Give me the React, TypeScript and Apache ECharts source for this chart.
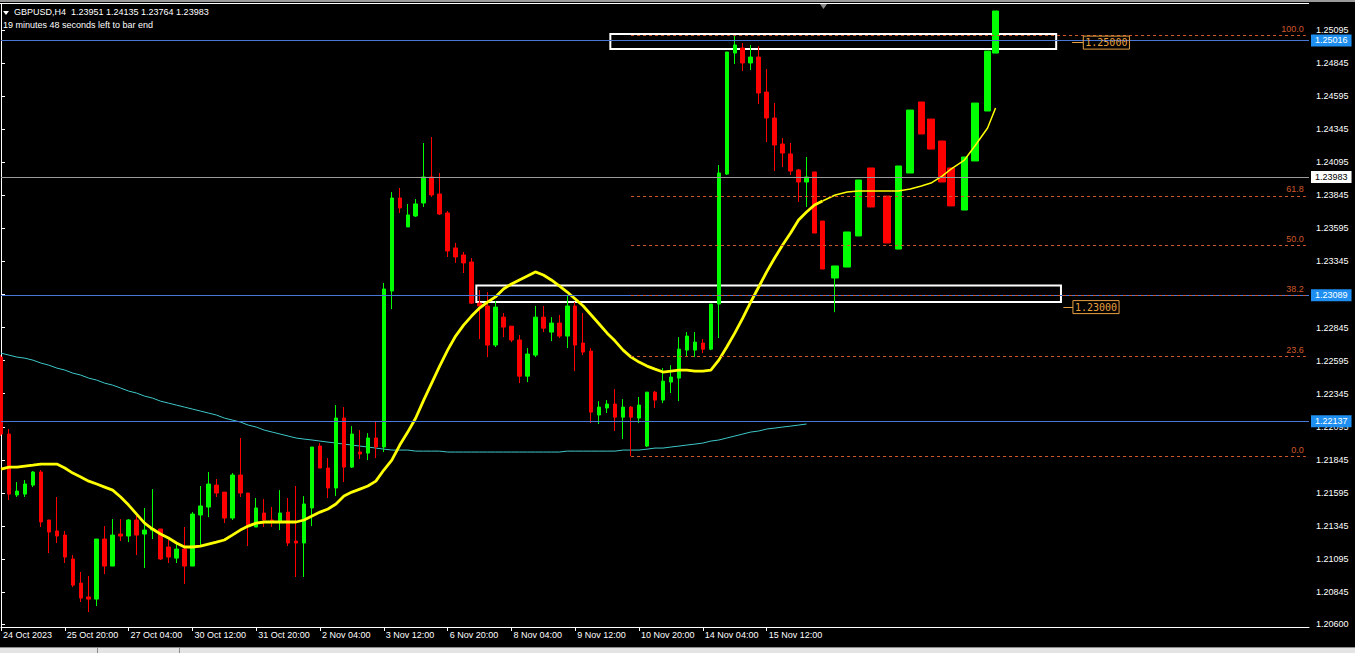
import React, { useEffect, useRef } from "react";
import * as echarts from "echarts";

// ---------- data ----------
const quote = ["1.23951", "1.24135", "1.23764", "1.23983"];
const headerSymbol = "GBPUSD,H4";
const headerTimer = "19 minutes 48 seconds left to bar end";

const timeLabels = [
  "24 Oct 2023", "25 Oct 20:00", "27 Oct 04:00", "30 Oct 12:00", "31 Oct 20:00",
  "2 Nov 04:00", "3 Nov 12:00", "6 Nov 20:00", "8 Nov 04:00", "9 Nov 12:00",
  "10 Nov 20:00", "14 Nov 04:00", "15 Nov 12:00",
];
const timeTickSlots = [0, 8, 16, 24, 32, 40, 48, 56, 64, 72, 80, 88, 96];

const priceTicks = [
  1.206, 1.20845, 1.21095, 1.21345, 1.21595, 1.21845, 1.22095, 1.22345, 1.22595,
  1.22845, 1.23095, 1.23345, 1.23595, 1.23845, 1.24095, 1.24345, 1.24595, 1.24845, 1.25095,
];

// [open, close, low, high] per H4 bar
const realBars = [
  [1.22622, 1.2204, 1.22025, 1.22637],
  [1.2204, 1.21586, 1.21541, 1.22078],
  [1.21579, 1.21609, 1.21564, 1.21677],
  [1.21586, 1.21662, 1.21564, 1.21692],
  [1.21654, 1.21753, 1.21639, 1.2176],
  [1.21753, 1.21375, 1.21337, 1.21768],
  [1.2139, 1.21299, 1.2114, 1.2139],
  [1.21307, 1.21269, 1.21216, 1.21564],
  [1.21276, 1.2111, 1.21065, 1.21307],
  [1.21095, 1.20898, 1.20883, 1.21125],
  [1.20913, 1.208, 1.2077, 1.20997],
  [1.20808, 1.20792, 1.20694, 1.20966],
  [1.20792, 1.21246, 1.2074, 1.21246],
  [1.21246, 1.21042, 1.20981, 1.21344],
  [1.21042, 1.21276, 1.21042, 1.21397],
  [1.21284, 1.21269, 1.21231, 1.21397],
  [1.21269, 1.2139, 1.21223, 1.21397],
  [1.2139, 1.21276, 1.21125, 1.2142],
  [1.21284, 1.21314, 1.21027, 1.21481],
  [1.21314, 1.21322, 1.21246, 1.21624],
  [1.21322, 1.21095, 1.21087, 1.21322],
  [1.21186, 1.2111, 1.21065, 1.21239],
  [1.21102, 1.2117, 1.21065, 1.21216],
  [1.2117, 1.21042, 1.20906, 1.21337],
  [1.21042, 1.21435, 1.21042, 1.2145],
  [1.21428, 1.21496, 1.21201, 1.21647],
  [1.21488, 1.21662, 1.21412, 1.21753],
  [1.21654, 1.21594, 1.21564, 1.217],
  [1.21601, 1.21405, 1.21367, 1.21601],
  [1.21405, 1.2173, 1.2139, 1.21745],
  [1.2173, 1.21594, 1.21564, 1.2201],
  [1.21594, 1.21344, 1.21193, 1.21594],
  [1.21337, 1.21481, 1.21337, 1.21556],
  [1.21443, 1.2139, 1.21337, 1.21548],
  [1.2139, 1.21375, 1.21337, 1.21488],
  [1.21375, 1.21443, 1.21314, 1.21616],
  [1.2145, 1.21216, 1.21193, 1.21556],
  [1.21231, 1.21216, 1.20959, 1.21647],
  [1.21216, 1.21511, 1.20959, 1.21571],
  [1.21481, 1.21942, 1.21344, 1.21942],
  [1.21949, 1.21783, 1.21783, 1.21972],
  [1.21783, 1.21632, 1.21556, 1.21858],
  [1.21632, 1.22161, 1.21571, 1.22259],
  [1.22161, 1.2179, 1.21677, 1.22244],
  [1.2179, 1.2204, 1.21783, 1.221],
  [1.21904, 1.21889, 1.21851, 1.2207],
  [1.21896, 1.2201, 1.21843, 1.22047],
  [1.2201, 1.21942, 1.21858, 1.22131],
  [1.21942, 1.23137, 1.21904, 1.23182],
  [1.23122, 1.23825, 1.22985, 1.2387],
  [1.23825, 1.2375, 1.23712, 1.23901],
  [1.23606, 1.23697, 1.23606, 1.2378],
  [1.23689, 1.2378, 1.23681, 1.23817],
  [1.23787, 1.23984, 1.23757, 1.24241],
  [1.23984, 1.23848, 1.23833, 1.24286],
  [1.23855, 1.23704, 1.23697, 1.24014],
  [1.23712, 1.23424, 1.23379, 1.23727],
  [1.23447, 1.23379, 1.23334, 1.23485],
  [1.23394, 1.23334, 1.23258, 1.23417],
  [1.23341, 1.2303, 1.23023, 1.23371],
  [1.2303, 1.23008, 1.22758, 1.23129],
  [1.23008, 1.22713, 1.22622, 1.23114],
  [1.22713, 1.23, 1.22698, 1.23045],
  [1.22924, 1.22849, 1.22773, 1.22955],
  [1.22856, 1.22751, 1.22735, 1.22856],
  [1.22751, 1.22478, 1.22425, 1.22788],
  [1.22478, 1.22645, 1.22433, 1.2269],
  [1.22637, 1.22924, 1.22622, 1.23008],
  [1.22924, 1.22841, 1.22811, 1.23008],
  [1.22811, 1.22879, 1.22743, 1.22924],
  [1.22879, 1.22781, 1.22766, 1.2294],
  [1.22781, 1.23008, 1.2269, 1.23092],
  [1.23008, 1.22713, 1.22516, 1.23038],
  [1.22728, 1.2266, 1.22637, 1.22955],
  [1.22667, 1.22206, 1.22123, 1.2269],
  [1.22184, 1.22244, 1.22116, 1.22289],
  [1.22237, 1.22267, 1.22199, 1.22297],
  [1.22267, 1.22168, 1.22063, 1.2238],
  [1.22168, 1.22244, 1.22002, 1.22304],
  [1.22244, 1.22168, 1.21874, 1.22252],
  [1.22161, 1.22259, 1.22123, 1.2232],
  [1.21949, 1.22357, 1.21942, 1.22357],
  [1.22357, 1.22297, 1.22237, 1.22365],
  [1.22297, 1.2244, 1.22274, 1.22539],
  [1.22433, 1.22471, 1.2235, 1.22561],
  [1.22463, 1.22682, 1.22289, 1.22773],
  [1.22675, 1.22781, 1.22622, 1.22811],
  [1.22675, 1.22735, 1.22622, 1.22811],
  [1.22728, 1.22682, 1.22652, 1.22758],
  [1.22682, 1.23023, 1.22675, 1.23023],
  [1.23023, 1.24014, 1.22766, 1.24074],
  [1.24006, 1.24929, 1.23999, 1.24929],
  [1.24921, 1.24982, 1.24838, 1.25057],
  [1.24959, 1.24846, 1.24785, 1.24997],
  [1.24846, 1.24891, 1.24793, 1.24982],
  [1.24891, 1.24619, 1.24536, 1.24974],
  [1.24626, 1.2443, 1.24248, 1.248],
  [1.2443, 1.24226, 1.24029, 1.24543],
  [1.24233, 1.24165, 1.24059, 1.24279],
  [1.24158, 1.24029, 1.23999, 1.24241],
  [1.24037, 1.23946, 1.23795, 1.24044],
  [1.23946, 1.23984, 1.23757, 1.24135],
  [1.24022, 1.2356, 1.2356, 1.24022],
  [1.23651, 1.23288, 1.23288, 1.23651],
];

// hand-drawn projection bars (wider, irregular time slots)
const drawnSlots = [104.6, 106.1, 107.5, 109.1, 111.1, 112.5, 114.0, 115.4, 116.6, 118.0, 119.1, 120.8, 122.1, 123.7, 124.7];
const drawnBars = [
  [1.2322, 1.23311, 1.22962, 1.23311],
  [1.23303, 1.23568, 1.23303, 1.23568],
  [1.23538, 1.23961, 1.23538, 1.23961],
  [1.24052, 1.23757, 1.23757, 1.24052],
  [1.2384, 1.23485, 1.23485, 1.2384],
  [1.23439, 1.24067, 1.23439, 1.24067],
  [1.24014, 1.2449, 1.24014, 1.2449],
  [1.24551, 1.24309, 1.24309, 1.24551],
  [1.24422, 1.24195, 1.24195, 1.24422],
  [1.24256, 1.23946, 1.23946, 1.24256],
  [1.24052, 1.23765, 1.23765, 1.24052],
  [1.23734, 1.24135, 1.23734, 1.24135],
  [1.24105, 1.24543, 1.24105, 1.24543],
  [1.24483, 1.24936, 1.24483, 1.24936],
  [1.24921, 1.25239, 1.24921, 1.25239],
];

// yellow moving average
const maFast = [
  1.21775, 1.2179, 1.2179, 1.21798, 1.21805, 1.21813, 1.21813, 1.21813, 1.21783, 1.21745,
  1.21715, 1.21684, 1.21662, 1.21639, 1.21616, 1.21564, 1.21503, 1.21435, 1.21367, 1.21322,
  1.21284, 1.21254, 1.21216, 1.21186, 1.21186, 1.21193, 1.21208, 1.21223, 1.21239, 1.21276,
  1.21314, 1.21344, 1.21367, 1.21375, 1.21375, 1.21375, 1.21375, 1.21375, 1.2139, 1.2142,
  1.2145, 1.21473, 1.21511, 1.21571, 1.21601, 1.21624, 1.21647, 1.21684, 1.21768, 1.21843,
  1.21957, 1.22055, 1.22161, 1.22297, 1.22425, 1.22554, 1.22675, 1.22781, 1.22864, 1.22932,
  1.22993, 1.23038, 1.23077, 1.23137, 1.23175, 1.23205, 1.23235, 1.23266, 1.23243, 1.23205,
  1.2316, 1.23114, 1.23061, 1.23008, 1.2294, 1.22872, 1.22803, 1.22743, 1.22675, 1.22622,
  1.22584, 1.22554, 1.22531, 1.22509, 1.22516, 1.22524, 1.22524, 1.22516, 1.22516, 1.22524,
  1.22599, 1.22698, 1.22803, 1.22917, 1.23038, 1.23152, 1.23266, 1.23371, 1.2347, 1.2356,
  1.23659, 1.23719, 1.23772, 1.23802,
];
const maTailSlots = [103, 104.6, 106.1, 107.5, 109.1, 111.1, 112.5, 114.0, 115.4, 116.6, 118.0, 119.1, 120.8, 122.1, 123.7, 124.7];
const maTail = [
  1.23802, 1.23848, 1.2387, 1.23878, 1.23878, 1.23878, 1.23878, 1.23893, 1.23916, 1.23938,
  1.23991, 1.24044, 1.24112, 1.24218, 1.24354, 1.24506,
];

// cyan moving average
const maSlow = [
  1.22652, 1.22637, 1.22622, 1.22614, 1.22599, 1.22577, 1.22561, 1.22539, 1.22524, 1.22501,
  1.22486, 1.22463, 1.22448, 1.22425, 1.2241, 1.22388, 1.22365, 1.2235, 1.22327, 1.22312,
  1.22289, 1.22274, 1.22259, 1.22244, 1.22229, 1.22214, 1.22199, 1.22184, 1.22161, 1.22146,
  1.22131, 1.22108, 1.22093, 1.2207, 1.22055, 1.2204, 1.22025, 1.2201, 1.22002, 1.21995,
  1.21987, 1.21979, 1.21972, 1.21964, 1.21957, 1.21949, 1.21942, 1.21934, 1.21926, 1.21919,
  1.21919, 1.21919, 1.21911, 1.21911, 1.21911, 1.21911, 1.21904, 1.21904, 1.21904, 1.21904,
  1.21904, 1.21904, 1.21904, 1.21904, 1.21904, 1.21904, 1.21904, 1.21904, 1.21904, 1.21904,
  1.21904, 1.21911, 1.21911, 1.21911, 1.21911, 1.21911, 1.21911, 1.21911, 1.21919, 1.21919,
  1.21919, 1.21926, 1.21934, 1.21934, 1.21942, 1.21949, 1.21957, 1.21964, 1.21972, 1.21987,
  1.21995, 1.2201, 1.22025, 1.2204, 1.22055, 1.22063, 1.22078, 1.22085, 1.22093, 1.221,
  1.22108, 1.22116,
];

// horizontal lines
const blueLevels = [1.25016, 1.23089, 1.22137];
const bidLevel = 1.23983;

// fibonacci retracement
const fibLow = 1.21874;
const fibHigh = 1.25057;
const fibStartSlot = 79;
const fibEndSlot = 163.6;
const fibPercents = [0, 23.6, 38.2, 50, 61.8, 100];

// zones (white rectangles) and their tags
const zoneLows = [1.24951, 1.23038];
const zoneHighs = [1.25065, 1.23163];
const zoneStarts = [76.4, 59.6];
const zoneEnds = [132.3, 132.9];
const zoneLevels = [1.25, 1.23];
const zoneTagStarts = [134.3, 133.2];
const zoneTagEnds = [135.7, 134.4];

// ---------- option ----------
const FONT = "Liberation Sans";
const fibColor = "#d0582c";
const zoneTagColor = "#e8a040";

function buildOption() {
  const markLineData: any[] = [];
  blueLevels.forEach((v) => {
    markLineData.push({
      yAxis: v,
      lineStyle: { color: "#4a78d8", width: 1, type: "solid" },
      label: {
        show: true, position: "end", distance: 2, formatter: v.toFixed(5),
        backgroundColor: "#1e8ff0", color: "#ffffff", padding: [2, 4, 1, 4],
        fontSize: 9, fontFamily: FONT,
      },
    });
  });
  markLineData.push({
    yAxis: bidLevel,
    lineStyle: { color: "#9c9c9c", width: 1, type: "solid" },
    label: {
      show: true, position: "end", distance: 2, formatter: bidLevel.toFixed(5),
      backgroundColor: "#ffffff", color: "#000000", padding: [2, 4, 1, 4],
      fontSize: 9, fontFamily: FONT,
    },
  });
  fibPercents.forEach((p) => {
    const lvl = fibLow + ((fibHigh - fibLow) * p) / 100;
    markLineData.push([
      {
        coord: [fibStartSlot, lvl],
        lineStyle: { color: fibColor, width: 1, type: [3, 3] },
        label: {
          show: true, position: "insideEndTop", distance: 2, formatter: p.toFixed(1),
          color: fibColor, fontSize: 9, fontFamily: FONT,
        },
      },
      { coord: [fibEndSlot, lvl] },
    ]);
  });
  zoneLevels.forEach((lvl, i) => {
    markLineData.push([
      {
        coord: [zoneTagStarts[i], lvl],
        lineStyle: { color: zoneTagColor, width: 1, type: "solid" },
        label: {
          show: true, position: "end", distance: 0, formatter: lvl.toFixed(5),
          color: zoneTagColor, borderColor: zoneTagColor, borderWidth: 1,
          padding: [2, 2, 1, 2], fontSize: 10, fontFamily: "DejaVu Sans Mono",
        },
      },
      { coord: [zoneTagEnds[i], lvl] },
    ]);
  });

  const markAreaData = zoneLows.map((lo, i) => [
    { coord: [zoneStarts[i], zoneHighs[i]] },
    { coord: [zoneEnds[i], lo] },
  ]);

  const candleStyle = {
    color: "#00ff00", color0: "#ff0000",
    borderColor: "#00ff00", borderColor0: "#ff0000", borderWidth: 1,
  };

  return {
    animation: false,
    backgroundColor: "#000000",
    textStyle: { fontFamily: FONT },
    grid: { left: 0, right: 46, top: 4, bottom: 26 },
    xAxis: {
      type: "value",
      min: 0,
      max: 164,
      axisLine: { show: true, onZero: false, lineStyle: { color: "#ffffff", width: 1 } },
      axisTick: { show: true, customValues: timeTickSlots, length: 4, lineStyle: { color: "#ffffff" } },
      axisLabel: {
        customValues: timeTickSlots,
        formatter: (v: number) => timeLabels[timeTickSlots.indexOf(Math.round(v))] ?? "",
        color: "#ffffff", fontSize: 9, fontFamily: FONT, align: "left", margin: 3,
        padding: [0, 0, 0, 2],
      },
      splitLine: { show: false },
    },
    yAxis: {
      type: "value",
      position: "right",
      min: 1.20581,
      max: 1.25292,
      axisLine: { show: true, lineStyle: { color: "#ffffff", width: 1 } },
      axisTick: { show: true, customValues: priceTicks, length: 4, lineStyle: { color: "#ffffff" } },
      axisLabel: {
        customValues: priceTicks,
        formatter: (v: number) => v.toFixed(5),
        color: "#ffffff", fontSize: 9, fontFamily: FONT, margin: 7,
      },
      splitLine: { show: false },
    },
    series: [
      {
        type: "line",
        name: "MA slow",
        z: 1,
        data: maSlow.map((v, i) => [i, v]),
        symbol: "none",
        lineStyle: { color: "#3ec8c8", width: 1 },
        markLine: {
          silent: true, symbol: ["none", "none"], animation: false, precision: 5,
          data: markLineData,
        },
        markArea: {
          silent: true,
          itemStyle: { color: "rgba(0,0,0,0)", borderColor: "#ffffff", borderWidth: 2 },
          data: markAreaData,
        },
      },
      {
        type: "candlestick",
        name: "GBPUSD",
        z: 3,
        dimensions: ["slot", "open", "close", "lowest", "highest"],
        encode: { x: 0, y: [1, 2, 3, 4] },
        barWidth: 4,
        data: realBars.map((b, i) => [i, b[0], b[1], b[2], b[3]]),
        itemStyle: candleStyle,
      },
      {
        type: "candlestick",
        name: "Projection",
        z: 3,
        dimensions: ["slot", "open", "close", "lowest", "highest"],
        encode: { x: 0, y: [1, 2, 3, 4] },
        barWidth: 7,
        data: drawnBars.map((b, i) => [drawnSlots[i], b[0], b[1], b[2], b[3]]),
        itemStyle: candleStyle,
      },
      {
        type: "line",
        name: "MA fast",
        z: 4,
        data: maFast.map((v, i) => [i, v]),
        symbol: "none",
        lineStyle: { color: "#ffff00", width: 2.8 },
      },
      {
        type: "line",
        name: "MA fast tail",
        z: 4,
        data: maTail.map((v, i) => [maTailSlots[i], v]),
        symbol: "none",
        lineStyle: { color: "#ffff00", width: 1.5 },
      },
    ],
    graphic: [
      { type: "rect", left: 0, top: 0, shape: { width: 1355, height: 2 }, style: { fill: "#9a9a9a" }, z: 50 },
      { type: "line", shape: { x1: 0, y1: 3.5, x2: 1309, y2: 3.5 }, style: { stroke: "#ffffff", lineWidth: 1 }, z: 50 },
      { type: "polygon", shape: { points: [[820, 4], [827, 4], [823.5, 9]] }, style: { fill: "#8a8a8a" }, z: 50 },
      { type: "polygon", shape: { points: [[3, 11], [9, 11], [6, 15]] }, style: { fill: "#ffffff" }, z: 50 },
      {
        type: "text", x: 14, y: 7, z: 50,
        style: { text: `${headerSymbol}  ${quote.join(" ")}`, fill: "#ffffff", fontSize: 9, fontFamily: FONT },
      },
      {
        type: "text", x: 3, y: 20, z: 50,
        style: { text: headerTimer, fill: "#ffffff", fontSize: 9, fontFamily: FONT },
      },
      { type: "rect", left: 0, top: 647, shape: { width: 1355, height: 6 }, style: { fill: "#e4e4e4" }, z: 50 },
      { type: "line", shape: { x1: 0, y1: 647.5, x2: 1355, y2: 647.5 }, style: { stroke: "#8c8c8c", lineWidth: 1 }, z: 50 },
      { type: "line", shape: { x1: 97.5, y1: 648, x2: 97.5, y2: 653 }, style: { stroke: "#8c8c8c", lineWidth: 1 }, z: 50 },
      { type: "line", shape: { x1: 179.5, y1: 648, x2: 179.5, y2: 653 }, style: { stroke: "#8c8c8c", lineWidth: 1 }, z: 50 },
    ],
  };
}

export default function App() {
  const ref = useRef<HTMLDivElement>(null);
  useEffect(() => {
    if (!ref.current) return;
    const chart = echarts.init(ref.current, null, { renderer: "svg" });
    chart.setOption(buildOption() as any);
    return () => chart.dispose();
  }, []);
  return (
    <div
      ref={ref}
      style={{ position: "fixed", left: 0, top: 0, width: 1355, height: 653, background: "#000000" }}
    />
  );
}
